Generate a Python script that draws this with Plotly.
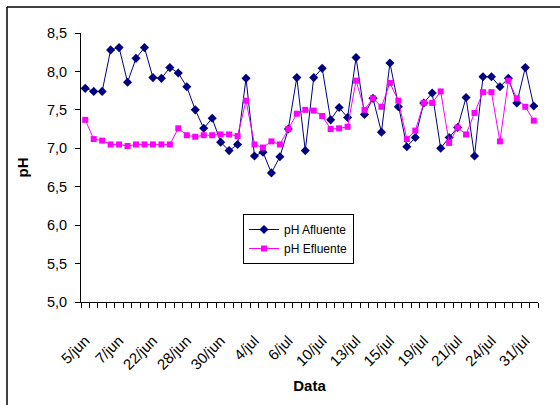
import plotly.graph_objects as go

# pH readings, one per sampling event (54 samples)
afluente = [7.78, 7.74, 7.74, 8.28, 8.31, 7.86, 8.17, 8.31, 7.92, 7.91,
            8.05, 7.98, 7.80, 7.50, 7.26, 7.39, 7.08, 6.97, 7.05, 7.91,
            6.90, 6.95, 6.68, 6.89, 7.25, 7.92, 6.97, 7.92, 8.04, 7.37,
            7.53, 7.40, 8.18, 7.44, 7.65, 7.21, 8.11, 7.54, 7.02, 7.14,
            7.59, 7.72, 7.00, 7.14, 7.27, 7.66, 6.90, 7.93, 7.93, 7.80,
            7.91, 7.59, 8.05, 7.55]
efluente = [7.37, 7.12, 7.10, 7.05, 7.05, 7.03, 7.05, 7.05, 7.05, 7.05,
            7.05, 7.26, 7.17, 7.15, 7.17, 7.17, 7.18, 7.18, 7.16, 7.62,
            7.05, 7.01, 7.09, 7.05, 7.25, 7.45, 7.50, 7.49, 7.42, 7.25,
            7.26, 7.28, 7.88, 7.50, 7.65, 7.54, 7.85, 7.62, 7.12, 7.23,
            7.59, 7.59, 7.74, 7.07, 7.27, 7.18, 7.46, 7.73, 7.73, 7.09,
            7.88, 7.65, 7.54, 7.36]

# date labels shown on every fourth sample
date_labels = ["5/jun", "7/jun", "22/jun", "28/jun", "30/jun", "4/jul", "6/jul",
               "10/jul", "13/jul", "15/jul", "19/jul", "21/jul", "24/jul", "31/jul"]
label_step = 4

x = list(range(len(afluente)))
label_pos = [i * label_step for i in range(len(date_labels))]

W, H = 560, 405
L, R, T, B = 81, 22, 33, 103
pw, ph = W - L - R, H - T - B

def px(v):
    return (v - L) / pw

def py(v):
    return (H - B - v) / ph

fig = go.Figure()
fig.add_trace(go.Scatter(
    x=x, y=afluente, name="pH Afluente", mode="lines+markers",
    line=dict(color="#000080", width=1),
    marker=dict(symbol="diamond", size=7, color="#000080"),
))
fig.add_trace(go.Scatter(
    x=x, y=efluente, name="pH Efluente", mode="lines+markers",
    line=dict(color="#FF00FF", width=1),
    marker=dict(symbol="square", size=6, color="#FF00FF"),
))

font = "Liberation Sans, Arial, sans-serif"
fig.update_layout(
    width=W, height=H,
    margin=dict(l=L, r=R, t=T, b=B),
    paper_bgcolor="white", plot_bgcolor="white",
    separators=",.",
    font=dict(family=font, size=12, color="black"),
    showlegend=True,
    legend=dict(
        x=px(243), y=py(214), xanchor="left", yanchor="top",
        bordercolor="black", borderwidth=1, bgcolor="white",
        font=dict(size=12, family=font), itemwidth=30,
        tracegroupgap=0,
    ),
    xaxis=dict(
        range=[-0.5, len(x) - 0.5],
        tickmode="array", tickvals=label_pos, ticktext=date_labels,
        tickangle=-45, ticks="", showgrid=False, zeroline=False,
        showline=True, linecolor="black", linewidth=1,
        tickfont=dict(size=15), ticklabelstandoff=23,
        minor=dict(ticks="outside", tickmode="linear", tick0=-0.5, dtick=1,
                   ticklen=5, tickcolor="black", showgrid=False),
        title=dict(text="<b>Data</b>", font=dict(size=15), standoff=8),
    ),
    yaxis=dict(
        range=[5, 8.5], dtick=0.5, tick0=5, tickformat=".1f",
        ticks="outside", ticklen=5, tickcolor="black",
        showgrid=False, zeroline=False,
        showline=True, linecolor="black", linewidth=1,
        tickfont=dict(size=14.5), ticklabelstandoff=5,
        title=dict(text="<b>pH</b>", font=dict(size=15), standoff=14),
    ),
    shapes=[
        dict(type="line", xref="paper", yref="paper",
             x0=px(7), x1=px(W + 5), y0=py(7), y1=py(7),
             line=dict(color="black", width=1.5)),
        dict(type="line", xref="paper", yref="paper",
             x0=px(7), x1=px(7), y0=py(7), y1=py(H + 5),
             line=dict(color="black", width=1.5)),
    ],
)

fig.write_html("out.html")
